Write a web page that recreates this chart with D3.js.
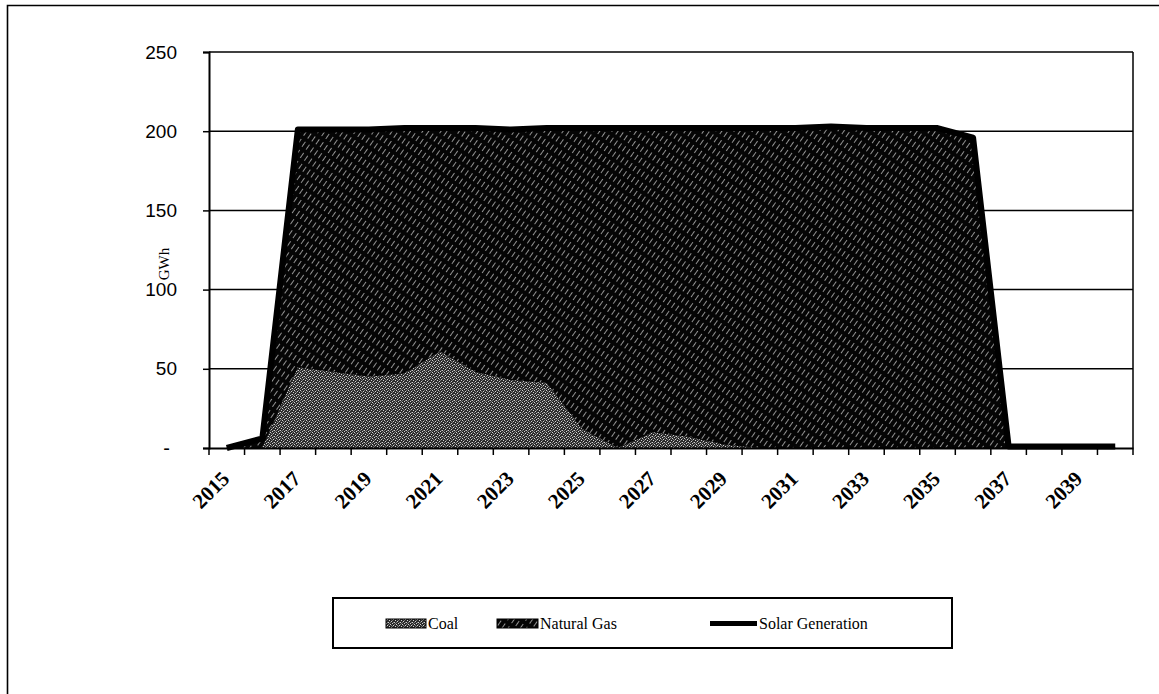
<!DOCTYPE html>
<html>
<head>
<meta charset="utf-8">
<script src="https://cdn.jsdelivr.net/npm/d3@7"></script>
<style>
  html, body { margin: 0; padding: 0; background: #fff; }
  svg { display: block; }
</style>
</head>
<body>
<svg id="chart" width="1159" height="694"></svg>
<script>
// ---- data ----
const years = ["2015","2016","2017","2018","2019","2020","2021","2022","2023","2024","2025","2026","2027",
               "2028","2029","2030","2031","2032","2033","2034","2035","2036","2037","2038","2039","2040"];
const coal = [0, 0, 51, 48, 45, 47, 61, 48, 43, 41, 12, 0, 10, 7, 2, 0, 0, 0, 0, 0, 0, 0, 0, 0, 0, 0];
const naturalGas = [0, 6, 150, 153, 156, 155, 141, 154, 158, 161, 190, 202, 192, 195, 200, 202, 202, 203, 202, 202, 202, 196, 0, 0, 0, 0];
const solarGeneration = [0, 6, 201, 201, 201, 202, 202, 202, 201, 202, 202, 202, 202, 202, 202, 202, 202, 203, 202, 202, 202, 196, 1, 1, 1, 1];
const yTicks = [0, 50, 100, 150, 200, 250];
const xTickLabels = ["2015","2017","2019","2021","2023","2025","2027","2029","2031","2033","2035","2037","2039"];
const seriesNames = ["Coal", "Natural Gas", "Solar Generation"];

// ---- layout ----
const svg = d3.select("#chart");
const X0 = 209, X1 = 1133, Y0 = 52, Y1 = 448;

const defs = svg.append("defs");
// Natural gas: black with fine light diagonal dashes
const pg = defs.append("pattern").attr("id", "gasPat").attr("patternUnits", "userSpaceOnUse")
  .attr("width", 5).attr("height", 10).attr("patternTransform", "rotate(35)");
pg.append("rect").attr("width", 5).attr("height", 10).attr("fill", "#050505");
pg.append("line").attr("x1", 1.5).attr("y1", 1).attr("x2", 1.5).attr("y2", 7)
  .attr("stroke", "#b8b8b8").attr("stroke-width", 0.8);
// Coal: speckled grey
const pc = defs.append("pattern").attr("id", "coalPat").attr("patternUnits", "userSpaceOnUse")
  .attr("width", 6).attr("height", 6);
pc.append("rect").attr("width", 6).attr("height", 6).attr("fill", "#2a2a2a");
[[0,0],[3,1],[1,3],[4,4],[2,5],[5,2]].forEach(([a,b]) => {
  pc.append("rect").attr("x", a).attr("y", b).attr("width", 1).attr("height", 1).attr("fill", "#d0d0d0");
});
[[2,2],[5,5],[1,1],[3,4],[0,4],[4,0]].forEach(([a,b]) => {
  pc.append("rect").attr("x", a).attr("y", b).attr("width", 1).attr("height", 1).attr("fill", "#7a7a7a");
});

// outer frame
svg.append("path").attr("d", "M7.5,694 L7.5,5.5 L1159,5.5").attr("fill", "none")
  .attr("stroke", "#000").attr("stroke-width", 1.6);

const xBand = d3.scaleBand().domain(years).range([X0, X1]).padding(0);
const xPos = d => xBand(d) + xBand.bandwidth() / 2;
const y = d3.scaleLinear().domain([0, 250]).range([Y1, Y0]);

// gridlines
svg.append("g").selectAll("line").data(yTicks.filter(t => t > 0)).join("line")
  .attr("x1", X0).attr("x2", X1).attr("y1", d => y(d)).attr("y2", d => y(d))
  .attr("stroke", "#000").attr("stroke-width", 1.5);
// right border of plot
svg.append("line").attr("x1", X1).attr("x2", X1).attr("y1", Y0).attr("y2", Y1)
  .attr("stroke", "#000").attr("stroke-width", 1.5);

// stacked areas
const table = years.map((yr, i) => ({ year: yr, Coal: coal[i], Gas: naturalGas[i] }));
const stack = d3.stack().keys(["Coal", "Gas"])(table);
const area = d3.area().x(d => xPos(d.data.year)).y0(d => y(d[0])).y1(d => y(d[1]));
svg.append("path").datum(stack[1]).attr("d", area).attr("fill", "url(#gasPat)")
  .attr("stroke", "#000").attr("stroke-width", 1);
svg.append("path").datum(stack[0]).attr("d", area).attr("fill", "url(#coalPat)")
  .attr("stroke", "none");

// solar line
const line = d3.line().x((d, i) => xPos(years[i])).y(d => y(d));
svg.append("path").datum(solarGeneration).attr("d", line).attr("fill", "none")
  .attr("stroke", "#000").attr("stroke-width", 6).attr("stroke-linejoin", "round");

// y axis
const yAxis = d3.axisLeft(y).tickValues(yTicks).tickSize(6).tickPadding(26)
  .tickFormat(d => d === 0 ? "-" : d3.format("d")(d));
const gy = svg.append("g").attr("transform", `translate(${X0},0)`).call(yAxis);
gy.select(".domain").attr("stroke", "#000").attr("stroke-width", 2);
gy.selectAll(".tick line").attr("stroke", "#000").attr("stroke-width", 1.5);
gy.selectAll(".tick text").attr("font-family", "'Liberation Sans', Arial, sans-serif")
  .attr("font-size", 19).attr("fill", "#000");
gy.selectAll(".tick").filter(d => d === 0).select("text").attr("x", -39).attr("font-size", 20);

// x axis
const xAxis = d3.axisBottom(xBand).tickSize(0).tickFormat("");
const gx = svg.append("g").attr("transform", `translate(0,${Y1})`).call(xAxis);
gx.select(".domain").attr("stroke", "#000").attr("stroke-width", 2);
// tick marks at category boundaries
svg.append("g").selectAll("line").data(years).join("line")
  .attr("x1", d => xBand(d)).attr("x2", d => xBand(d)).attr("y1", Y1).attr("y2", Y1 + 7)
  .attr("stroke", "#000").attr("stroke-width", 1.5);
svg.append("line").attr("x1", X1).attr("x2", X1).attr("y1", Y1).attr("y2", Y1 + 7)
  .attr("stroke", "#000").attr("stroke-width", 1.5);
svg.append("g").selectAll("text").data(xTickLabels).join("text")
  .attr("transform", d => `translate(${xPos(d) + 4},${Y1 + 32}) rotate(-45)`)
  .attr("text-anchor", "end")
  .attr("font-family", "'Liberation Serif', 'Times New Roman', serif")
  .attr("font-size", 21).attr("font-weight", "bold").attr("fill", "#000")
  .text(d => d);

// y axis title
svg.append("text").attr("transform", "translate(169,264) rotate(-90)")
  .attr("text-anchor", "middle").attr("font-family", "'Liberation Serif', 'Times New Roman', serif")
  .attr("font-size", 15).attr("fill", "#000").text("GWh");

// legend
const lg = svg.append("g");
lg.append("rect").attr("x", 333).attr("y", 598).attr("width", 619).attr("height", 50)
  .attr("fill", "#fff").attr("stroke", "#000").attr("stroke-width", 2);
const legendItems = [
  { name: seriesNames[0], type: "area", fill: "url(#coalPat)", x: 386, w: 40 },
  { name: seriesNames[1], type: "area", fill: "url(#gasPat)", x: 497, w: 41 },
  { name: seriesNames[2], type: "line", x: 710, w: 47 }
];
legendItems.forEach(it => {
  if (it.type === "area") {
    lg.append("rect").attr("x", it.x).attr("y", 619).attr("width", it.w).attr("height", 9)
      .attr("fill", it.fill).attr("stroke", "#000").attr("stroke-width", 1);
  } else {
    lg.append("line").attr("x1", it.x).attr("x2", it.x + it.w).attr("y1", 623.5).attr("y2", 623.5)
      .attr("stroke", "#000").attr("stroke-width", 5);
  }
  lg.append("text").attr("x", it.x + it.w + 2).attr("y", 629)
    .attr("font-family", "'Liberation Serif', 'Times New Roman', serif")
    .attr("font-size", 16).attr("fill", "#000").text(it.name);
});
</script>
</body>
</html>
